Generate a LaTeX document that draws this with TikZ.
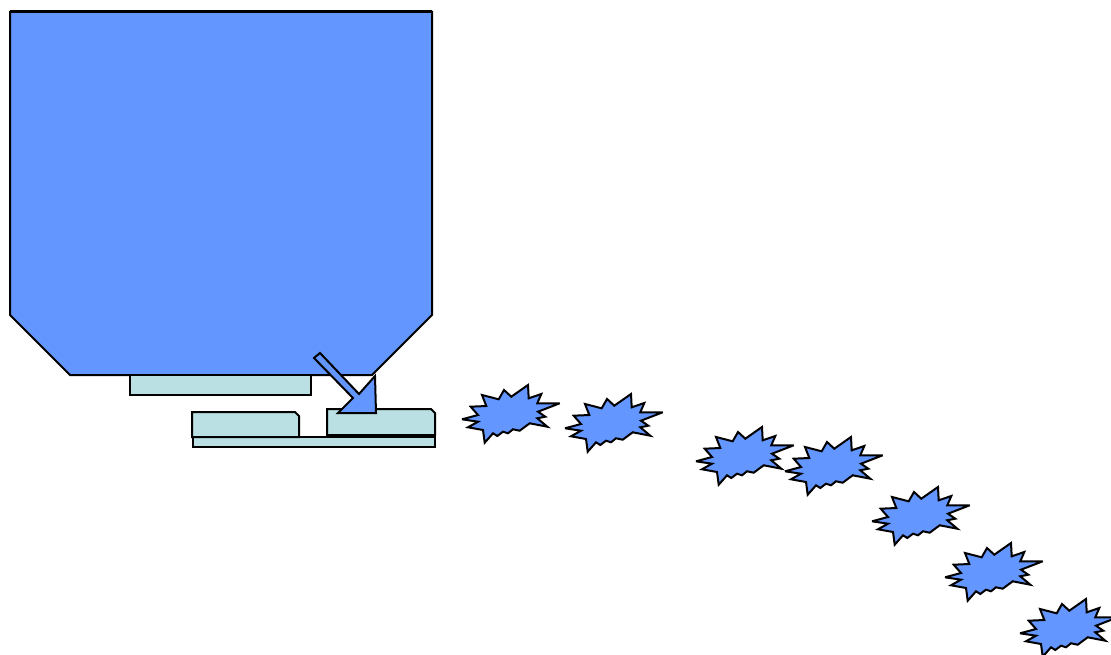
\documentclass[tikz,border=0pt]{standalone}
\usetikzlibrary{calc}
\definecolor{hopblue}{RGB}{100,150,255}
\definecolor{lightcyan}{RGB}{186,224,227}
\tikzset{
  bluefill/.style={fill=hopblue,draw=black,line width=2pt,line join=miter},
  cyanfill/.style={fill=lightcyan,draw=black,line width=2pt,line join=miter},
  burst/.style={fill=hopblue,draw=black,line width=2pt,line join=miter,miter limit=4},
}
\newcommand{\burstat}[2]{%
  \draw[burst,shift={(#1,#2)}] (4,39.3) -- (20,35) -- (12.7,26.7) -- (28.3,26) -- (24,15) -- (40.7,19.3) -- (46,10) -- (53.3,16.7) -- (70,5) -- (70.7,18.3) -- (83.3,14) -- (79.3,23.3) -- (101.7,23.3) -- (80,31.7) -- (87.3,36.7) -- (79.3,38.3) -- (89.3,46.7) -- (71.7,43.3) -- (61.7,50.7) -- (55,49.3) -- (50,53.3) -- (45,51.7) -- (39.3,56) -- (35,53.3) -- (26.7,62.7) -- (25,50) -- (10,47.3) -- (20,41.7) -- cycle;}
\begin{document}
\begin{tikzpicture}[x=1pt,y=-1pt]
\useasboundingbox (0,0) rectangle (1111,655);
% hopper
\draw[bluefill] (10,12) -- (432,12) -- (432,315) -- (372,375) -- (70,375) -- (10,315) -- cycle;
\draw[line width=1pt] (10,11) -- (432,11);
% plate under hopper
\draw[cyanfill] (130,375) rectangle (311,395);
% base strip
\draw[cyanfill] (193,437) rectangle (435,447);
% left block
\draw[cyanfill] (192,437) -- (192,412) -- (295,412) -- (299,416) -- (299,437) -- cycle;
% right block
\draw[cyanfill] (327,435) -- (327,409) -- (431,409) -- (435,413) -- (435,435) -- cycle;
% arrow
\draw[bluefill] (314,358) -- (320,353) -- (359,394) -- (375,376) -- (376,413) -- (338,413) -- (353,398) -- cycle;
% bursts
\burstat{458}{380}
\burstat{561}{389}
\burstat{692}{422}
\burstat{781}{432}
\burstat{868}{482}
\burstat{941}{538}
\burstat{1016}{594}
\end{tikzpicture}
\end{document}
